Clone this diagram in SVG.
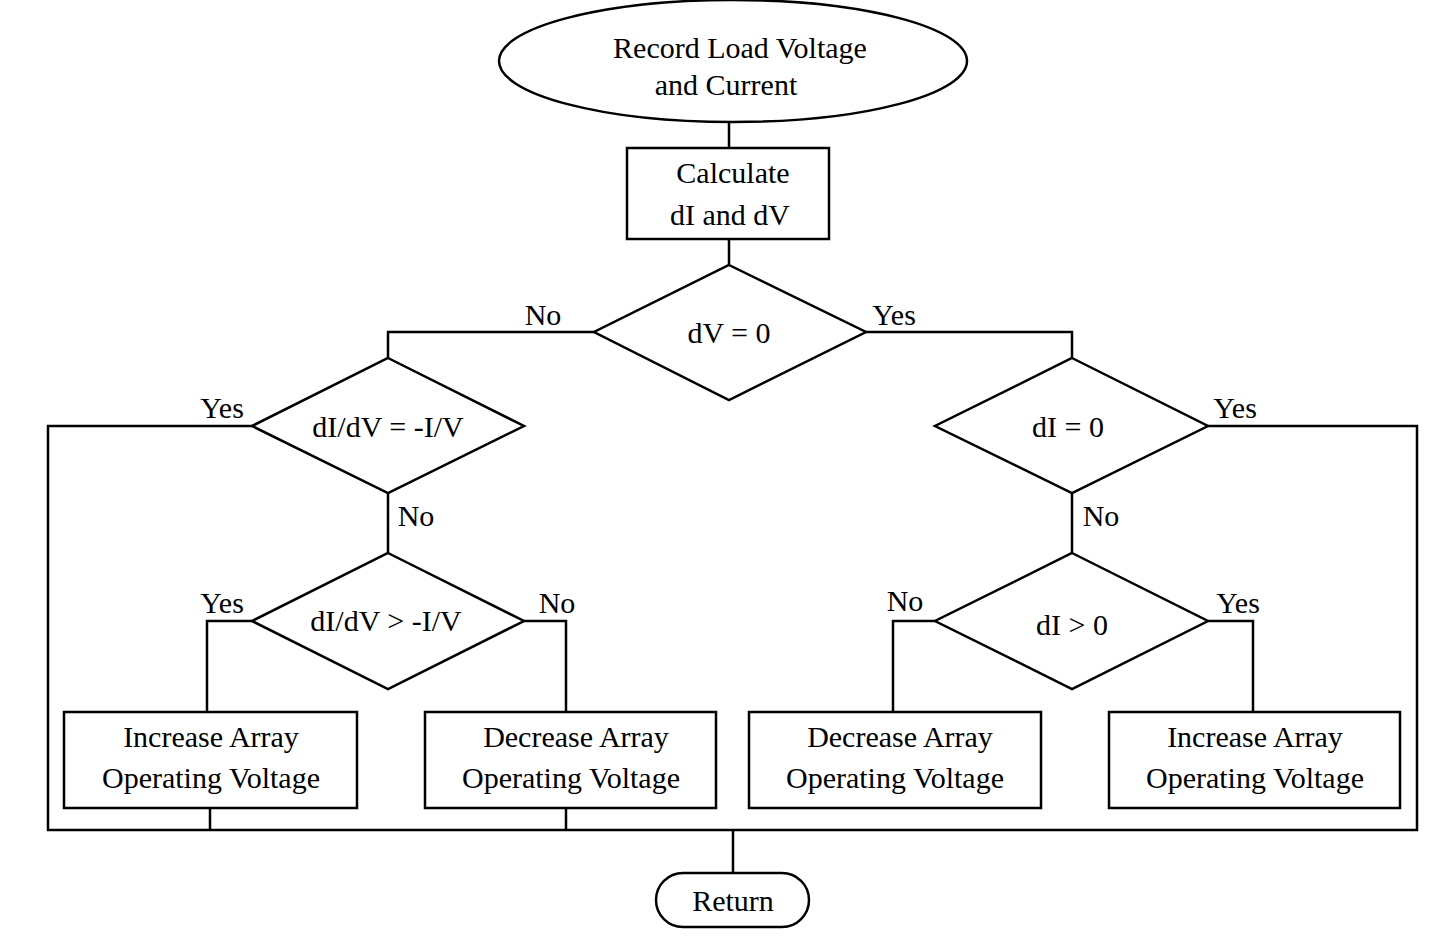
<svg xmlns="http://www.w3.org/2000/svg" width="1429" height="946" viewBox="0 0 1429 946">
<style>
.s{fill:#fff;stroke:#000;stroke-width:2.5}
.c{fill:none;stroke:#000;stroke-width:2.5}
text{font-family:"Liberation Serif",serif;font-size:30px;fill:#000;text-anchor:middle}
</style>
<rect width="1429" height="946" fill="#fff"/>
<g id="connectors">
<path class="c" d="M729 122V148M729 239V265M594 332H388V358M866 332H1072V358M252 426H48V830H1417V426H1208M388 493V553M252 621H207V712M524 621H566V712M210 808V830M566 808V830M1072 493V553M935 621H893V712M1208 621H1253V712M733 830V873"/>
<text x="543" y="325">No</text><text x="894" y="325">Yes</text>
<text x="222" y="418">Yes</text><text x="416" y="526">No</text>
<text x="222" y="613">Yes</text><text x="557" y="613">No</text>
<text x="1235" y="418">Yes</text><text x="1101" y="526">No</text>
<text x="905" y="611">No</text><text x="1238" y="613">Yes</text>
</g>
<g id="start"><ellipse class="s" cx="733" cy="61" rx="234" ry="61"/><text x="740" y="58">Record Load Voltage</text><text x="726" y="95">and  Current</text></g>
<g id="calc"><rect class="s" x="627" y="148" width="202" height="91"/><text x="733" y="183">Calculate</text><text x="730" y="225">dI and dV</text></g>
<g id="d1"><polygon class="s" points="729,265 866,332 729,400 594,332"/><text x="729" y="343">dV = 0</text></g>
<g id="d2"><polygon class="s" points="388,358 524,426 388,493 252,426"/><text x="388" y="437">dI/dV = -I/V</text></g>
<g id="d3"><polygon class="s" points="388,553 524,621 388,689 252,621"/><text x="386" y="631">dI/dV &gt; -I/V</text></g>
<g id="d4"><polygon class="s" points="1072,358 1208,426 1072,493 935,426"/><text x="1068" y="437">dI = 0</text></g>
<g id="d5"><polygon class="s" points="1072,553 1208,621 1072,689 935,621"/><text x="1072" y="635">dI &gt; 0</text></g>
<g id="b1"><rect class="s" x="64" y="712" width="293" height="96"/><text x="211" y="747">Increase Array</text><text x="211" y="788">Operating Voltage</text></g>
<g id="b2"><rect class="s" x="425" y="712" width="291" height="96"/><text x="576" y="747">Decrease Array</text><text x="571" y="788">Operating Voltage</text></g>
<g id="b3"><rect class="s" x="749" y="712" width="292" height="96"/><text x="900" y="747">Decrease Array</text><text x="895" y="788">Operating Voltage</text></g>
<g id="b4"><rect class="s" x="1109" y="712" width="291" height="96"/><text x="1255" y="747">Increase Array</text><text x="1255" y="788">Operating Voltage</text></g>
<g id="ret"><rect class="s" x="656" y="873" width="153" height="54" rx="27"/><text x="733" y="911">Return</text></g>
</svg>
